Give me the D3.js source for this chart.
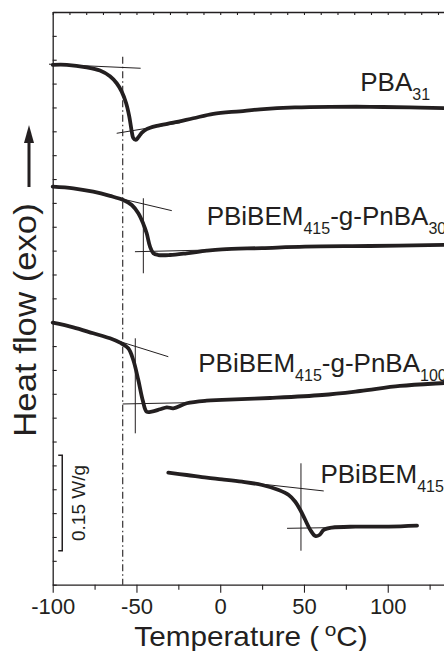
<!DOCTYPE html>
<html>
<head>
<meta charset="utf-8">
<script src="https://cdn.jsdelivr.net/npm/d3@7"></script>
<style>
  html, body { margin: 0; padding: 0; background: #fff; overflow: hidden; }
  svg { display: block; }
  text { font-family: "Liberation Sans", Arial, Helvetica, sans-serif; fill: #231f20; }
</style>
</head>
<body>
<svg id="chart" width="444" height="651"></svg>
<script>
// DSC heating traces: temperature (°C) and heat flow (W/g, traces offset vertically)
const pba31T = [-100, -91.6, -79.7, -71.8, -65.8, -61.8, -58.8, -56.2, -54.3, -52.8, -51.9, -50.4, -48.9, -46.9, -43.9, -37.9, -28.0, -16.1, -4.1, 11.8, 23.8, 44.6, 65.5, 89.4, 113.3, 133.6, 140];
const pba31Q = [0.817, 0.817, 0.813, 0.808, 0.799, 0.788, 0.775, 0.757, 0.736, 0.712, 0.702, 0.699, 0.703, 0.710, 0.716, 0.721, 0.726, 0.733, 0.740, 0.744, 0.747, 0.750, 0.751, 0.751, 0.750, 0.749, 0.749];

const graft30T = [-100, -87.7, -75.8, -65.8, -57.9, -52.8, -48.9, -45.9, -43.9, -41.9, -39.9, -37.0, -30.0, -20.0, -8.1, 1.1, 25.0, 50.6, 89.4, 133.6, 140];
const graft30Q = [0.6255, 0.623, 0.6176, 0.611, 0.6046, 0.5967, 0.5837, 0.567, 0.5523, 0.5312, 0.5208, 0.5181, 0.5181, 0.5208, 0.5249, 0.5271, 0.5290, 0.5312, 0.5323, 0.5339, 0.534];

const graft100T = [-100, -87.7, -75.8, -65.8, -59.8, -54.9, -51.9, -48.9, -46.3, -43.9, -40.9, -35.9, -31.9, -28.0, -20.0, -8.1, 1.1, 29.7, 60.8, 83.5, 107.3, 133.6, 140];
const graft100Q = [0.4118, 0.4045, 0.3951, 0.3872, 0.3803, 0.3715, 0.3531, 0.3217, 0.2903, 0.2719, 0.2719, 0.2757, 0.2788, 0.2772, 0.2851, 0.2892, 0.2903, 0.2934, 0.2981, 0.3044, 0.3123, 0.317, 0.318];

const pbibemT = [-31.0, -20.0, -8.1, 1.1, 13.0, 25.0, 34.9, 40.9, 44.8, 47.8, 50.8, 53.8, 56.8, 59.2, 61.8, 66.7, 80.7, 100.6, 117.5];
const pbibemQ = [0.176, 0.1724, 0.1682, 0.1656, 0.1619, 0.1567, 0.1488, 0.141, 0.1304, 0.1174, 0.1017, 0.086, 0.0765, 0.0781, 0.086, 0.0896, 0.0912, 0.0912, 0.0927];

// Glass-transition construction lines: [T1, Q1, T2, Q2]
const constructionLines = [
  [-102.2, 0.818, -47.5, 0.8116],
  [-61.8, 0.7094, -24.0, 0.726],
  [-71.8, 0.6145, -28.9, 0.5878],
  [-45.9, 0.6073, -45.9, 0.4894],
  [-50.9, 0.5233, -6.1, 0.526],
  [-73.0, 0.3929, -31.0, 0.3583],
  [-50.7, 0.3872, -50.7, 0.2379],
  [-58.2, 0.284, -20.0, 0.286],
  [2.9, 0.1645, 61.8, 0.1473],
  [48.2, 0.1908, 48.2, 0.0534],
  [39.9, 0.0886, 71.5, 0.0899]
];

// Reference temperature line and scale bar
const refTemp = -58.2;
const refTop = 0.8298;
const scaleBarQ = [0.0534, 0.2034];   // 0.15 W/g
const scaleBarT = [-96.7, -94.3];

// Curve labels: main text, subscript, continuation, subscript
const labelNames = ["PBA", "PBiBEM", "PBiBEM", "PBiBEM"];
const labelSubs = ["31", "415", "415", "415"];
const labelTails = ["", "-g-PnBA", "-g-PnBA", ""];
const labelTailSubs = ["", "30", "100", ""];
const labelT = [83.6, -8.1, -13.1, 59.8];
const labelQ = [0.7764, 0.5653, 0.3347, 0.1594];

const xMajor = [-100, -50, 0, 50, 100];
const xMinor = [-75, -25, 25, 75, 125];
const xTop = d3.range(-100, 151, 10);
const yTicks = d3.range(0, 25).map(i => i * 0.0375);

const svg = d3.select("#chart");
const ink = "#231f20";

const x = d3.scaleLinear().domain([-100, 150]).range([52.7, 471.5]);
const y = d3.scaleLinear().domain([0, 0.9]).range([584.7, 12]);

// Axes
const gBottom = svg.append("g").attr("transform", `translate(0,${y(0)})`)
  .call(d3.axisBottom(x).tickValues(xMajor).tickSize(8).tickSizeOuter(0).tickPadding(5).tickFormat(d => String(d)));
gBottom.selectAll("text").attr("font-size", 22).attr("font-family", null).attr("dy", "0.72em");
svg.append("g").attr("transform", `translate(0,${y(0)})`)
  .call(d3.axisBottom(x).tickValues(xMinor).tickSize(5).tickSizeOuter(0).tickFormat(""))
  .select(".domain").remove();
svg.append("g").attr("transform", `translate(0,${y(0.9)})`)
  .call(d3.axisBottom(x).tickValues(xTop).tickSize(3).tickSizeOuter(0).tickFormat(""));
svg.append("g").attr("transform", `translate(${x(-100)},0)`)
  .call(d3.axisRight(y).tickValues(yTicks).tickSize(4).tickSizeOuter(0).tickFormat(""));
svg.selectAll(".domain").attr("stroke", ink).attr("stroke-width", 1.3);
svg.selectAll(".tick line").attr("stroke", ink).attr("stroke-width", 1.1);

// Dash-dot reference line
svg.append("line")
  .attr("x1", x(refTemp)).attr("x2", x(refTemp))
  .attr("y1", y(refTop)).attr("y2", y(0))
  .attr("stroke", ink).attr("stroke-width", 1.1)
  .attr("stroke-dasharray", "7,3,1.5,3");

// Construction lines
svg.append("g").selectAll("line").data(constructionLines).join("line")
  .attr("x1", d => x(d[0])).attr("y1", d => y(d[1]))
  .attr("x2", d => x(d[2])).attr("y2", d => y(d[3]))
  .attr("stroke", ink).attr("stroke-width", 1);

// Traces
const line = d3.line().x(d => x(d[0])).y(d => y(d[1])).curve(d3.curveCatmullRom.alpha(0.5));
const traces = [
  d3.zip(pba31T, pba31Q),
  d3.zip(graft30T, graft30Q),
  d3.zip(graft100T, graft100Q),
  d3.zip(pbibemT, pbibemQ)
];
svg.append("g").selectAll("path").data(traces).join("path")
  .attr("d", line).attr("fill", "none")
  .attr("stroke", ink).attr("stroke-width", 3.8)
  .attr("stroke-linejoin", "round").attr("stroke-linecap", "round");

// Curve labels
labelNames.forEach((name, i) => {
  const t = svg.append("text")
    .attr("x", x(labelT[i])).attr("y", y(labelQ[i]))
    .attr("font-size", 26);
  t.append("tspan").text(name);
  t.append("tspan").attr("font-size", 16).attr("dy", 9).text(labelSubs[i]);
  if (labelTails[i]) {
    t.append("tspan").attr("dy", -9).text(labelTails[i]);
    t.append("tspan").attr("font-size", 16).attr("dy", 9).text(labelTailSubs[i]);
  }
});

// Scale bar
const sb = d3.path();
sb.moveTo(x(scaleBarT[0]), y(scaleBarQ[1]));
sb.lineTo(x(scaleBarT[1]), y(scaleBarQ[1]));
sb.lineTo(x(scaleBarT[1]), y(scaleBarQ[0]));
sb.lineTo(x(scaleBarT[0]), y(scaleBarQ[0]));
svg.append("path").attr("d", sb.toString()).attr("fill", "none")
  .attr("stroke", ink).attr("stroke-width", 1.5);
svg.append("text")
  .attr("transform", `translate(${x(scaleBarT[1]) + 23},${y((scaleBarQ[0] + scaleBarQ[1]) / 2)}) rotate(-90)`)
  .attr("text-anchor", "middle").attr("font-size", 19)
  .text("0.15 W/g");

// X axis title
const xt = svg.append("text")
  .attr("transform", "translate(251,646) scale(1.1,1)")
  .attr("text-anchor", "middle").attr("font-size", 27);
xt.append("tspan").text("Temperature (");
xt.append("tspan").attr("font-size", 19).attr("dx", 5).attr("dy", -10).text("o");
xt.append("tspan").attr("dy", 10).text("C)");

// Y axis title with exotherm arrow
svg.append("text")
  .attr("transform", "translate(36,320) rotate(-90) scale(1.12,1)")
  .attr("text-anchor", "middle").attr("font-size", 31)
  .text("Heat flow (exo)");
svg.append("line")
  .attr("x1", 29).attr("x2", 29).attr("y1", 187).attr("y2", 140)
  .attr("stroke", ink).attr("stroke-width", 3);
svg.append("path")
  .attr("d", "M29,125 L34,143 L24,143 Z")
  .attr("fill", ink);
</script>
</body>
</html>
